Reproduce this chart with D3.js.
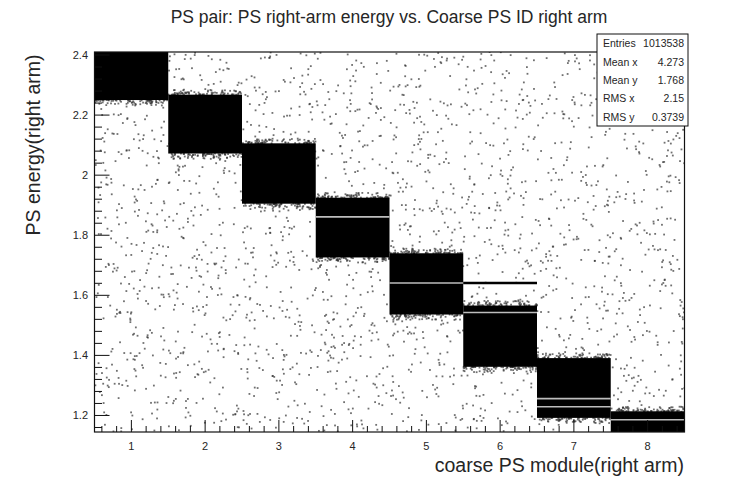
<!DOCTYPE html>
<html>
<head>
<meta charset="utf-8">
<script src="https://cdn.jsdelivr.net/npm/d3@7"></script>
<style>
  body { margin: 0; background: #fff; }
  text { font-family: "Liberation Sans", Arial, Helvetica, sans-serif; fill: #262626; }
</style>
</head>
<body>
<svg id="chart" width="742" height="480"></svg>
<script>
// Coarse PS module (x bins) and the energy band holding the bulk of entries per module
const modules  = [1, 2, 3, 4, 5, 6, 7, 8];
const bandLow  = [2.250, 2.072, 1.905, 1.726, 1.536, 1.362, 1.192, 1.145];
const bandHigh = [2.410, 2.268, 2.106, 1.925, 1.740, 1.566, 1.391, 1.214];
// Sparse background entries drawn per module column
const backgroundCounts = [300, 310, 305, 300, 300, 295, 290, 285];
// Entries on the soft edges of each band
const edgeCounts = [70, 70, 70, 70, 70, 70, 70, 70];
// Under-filled energy bins inside bands (light stripes)
const gapModules  = [4, 5, 6, 7, 7, 8];
const gapEnergies = [1.861, 1.641, 1.543, 1.256, 1.229, 1.186];
// Over-filled energy bins outside bands (dark stripes)
const ridgeModules  = [6];
const ridgeEnergies = [1.641];

const xTicks = [1, 2, 3, 4, 5, 6, 7, 8];
const yTicks = [1.2, 1.4, 1.6, 1.8, 2.0, 2.2, 2.4];
const statLabels = ["Entries", "Mean x", "Mean y", "RMS x", "RMS y"];
const statValues = ["1013538", "4.273", "1.768", "2.15", "0.3739"];

const svg = d3.select("#chart");
const W = 742, H = 480;
svg.append("rect").attr("width", W).attr("height", H).attr("fill", "#fff");

const frame = { left: 94.5, right: 684.5, top: 52, bottom: 432 };
const x = d3.scaleLinear().domain([0.5, 8.5]).range([frame.left, frame.right]);
const y = d3.scaleLinear().domain([1.145, 2.41]).range([frame.bottom, frame.top]);
const yMin = y.domain()[0], yMax = y.domain()[1];

const plot = svg.append("g");
svg.append("clipPath").attr("id", "clip")
  .append("rect").attr("x", frame.left).attr("y", frame.top)
  .attr("width", frame.right - frame.left).attr("height", frame.bottom - frame.top);
plot.attr("clip-path", "url(#clip)");

// Scatter-style placement of entries inside each x bin (seeded, reproducible)
const lcg = d3.randomLcg(0.4127);
const uni = d3.randomUniform.source(lcg)(0, 1);

const dots = [];
modules.forEach((m, i) => {
  for (let k = 0; k < backgroundCounts[i]; k++) {
    dots.push({ mx: m - 0.5 + uni(), e: yMin + (yMax - yMin) * uni() });
  }
  for (let k = 0; k < edgeCounts[i]; k++) {
    const u = uni();
    dots.push({ mx: m - 0.5 + uni(), e: bandLow[i] - 0.018 * u * u });
    const v = uni();
    dots.push({ mx: m - 0.5 + uni(), e: bandHigh[i] + 0.016 * v * v });
  }
});

plot.append("g").selectAll("rect").data(dots).join("rect")
  .attr("x", d => x(d.mx) - 0.9)
  .attr("y", d => y(d.e) - 0.9)
  .attr("width", 1.8).attr("height", 1.8)
  .attr("fill", "#333").attr("fill-opacity", 0.7);

// Dense bands
plot.append("g").selectAll("rect").data(modules).join("rect")
  .attr("x", (m) => x(m - 0.5))
  .attr("width", (m) => x(m + 0.5) - x(m - 0.5))
  .attr("y", (m, i) => y(bandHigh[i]))
  .attr("height", (m, i) => y(bandLow[i]) - y(bandHigh[i]))
  .attr("fill", "#000");

// Light stripes
plot.append("g").selectAll("line").data(gapModules).join("line")
  .attr("x1", m => x(m - 0.5)).attr("x2", m => x(m + 0.5))
  .attr("y1", (m, i) => y(gapEnergies[i])).attr("y2", (m, i) => y(gapEnergies[i]))
  .attr("stroke", "#bdbdbd").attr("stroke-width", 1.6);

// Dark stripes
plot.append("g").selectAll("line").data(ridgeModules).join("line")
  .attr("x1", m => x(m - 0.5)).attr("x2", m => x(m + 0.5))
  .attr("y1", (m, i) => y(ridgeEnergies[i])).attr("y2", (m, i) => y(ridgeEnergies[i]))
  .attr("stroke", "#000").attr("stroke-width", 2.4);

// Frame
svg.append("rect")
  .attr("x", frame.left).attr("y", frame.top)
  .attr("width", frame.right - frame.left).attr("height", frame.bottom - frame.top)
  .attr("fill", "none").attr("stroke", "#111").attr("stroke-width", 1.2);

// X axis ticks (inside the frame)
const xMinor = d3.range(0.6, 8.5, 0.2).map(v => +v.toFixed(2));
const axisG = svg.append("g").attr("stroke", "#111").attr("stroke-width", 1);
axisG.selectAll("line.xmin").data(xMinor).join("line")
  .attr("x1", d => x(d)).attr("x2", d => x(d))
  .attr("y1", frame.bottom).attr("y2", d => frame.bottom - (xTicks.includes(Math.round(d * 10) / 10) ? 12 : 6));

const yMinor = d3.range(1.16, 2.41, 0.04).map(v => +v.toFixed(2));
axisG.selectAll("line.ymin").data(yMinor).join("line")
  .attr("y1", d => y(d)).attr("y2", d => y(d))
  .attr("x1", frame.left)
  .attr("x2", d => frame.left + (yTicks.some(t => Math.abs(t - d) < 1e-6) ? 15 : 7.5));

svg.append("g").selectAll("text").data(xTicks).join("text")
  .attr("x", d => x(d)).attr("y", 450)
  .attr("text-anchor", "middle").attr("font-size", 11)
  .text(d => d3.format("d")(d));

svg.append("g").selectAll("text").data(yTicks).join("text")
  .attr("x", 88).attr("y", d => y(d) + 4)
  .attr("text-anchor", "end").attr("font-size", 11)
  .text(d => d3.format("~g")(d));

// Titles
svg.append("text").attr("x", 389).attr("y", 23).attr("text-anchor", "middle")
  .attr("font-size", 17.5).text("PS pair: PS right-arm energy vs. Coarse PS ID right arm");
svg.append("text").attr("x", 684).attr("y", 472).attr("text-anchor", "end")
  .attr("font-size", 19.5).text("coarse PS module(right arm)");
svg.append("text").attr("transform", "translate(40,145) rotate(-90)").attr("text-anchor", "middle")
  .attr("font-size", 19.5).text("PS energy(right arm)");

// Statistics box
const box = { x: 597, y: 34, w: 91, h: 92 };
svg.append("rect").attr("x", box.x).attr("y", box.y).attr("width", box.w).attr("height", box.h)
  .attr("fill", "#fff").attr("stroke", "#111").attr("stroke-width", 1);
const rowH = box.h / statLabels.length;
svg.append("g").selectAll("text").data(statLabels).join("text")
  .attr("x", box.x + 6).attr("y", (d, i) => box.y + rowH * i + rowH / 2 + 4)
  .attr("font-size", 10.5).text(d => d);
svg.append("g").selectAll("text").data(statValues).join("text")
  .attr("x", box.x + box.w - 4).attr("y", (d, i) => box.y + rowH * i + rowH / 2 + 4)
  .attr("text-anchor", "end").attr("font-size", 10.5).text(d => d);
</script>
</body>
</html>
